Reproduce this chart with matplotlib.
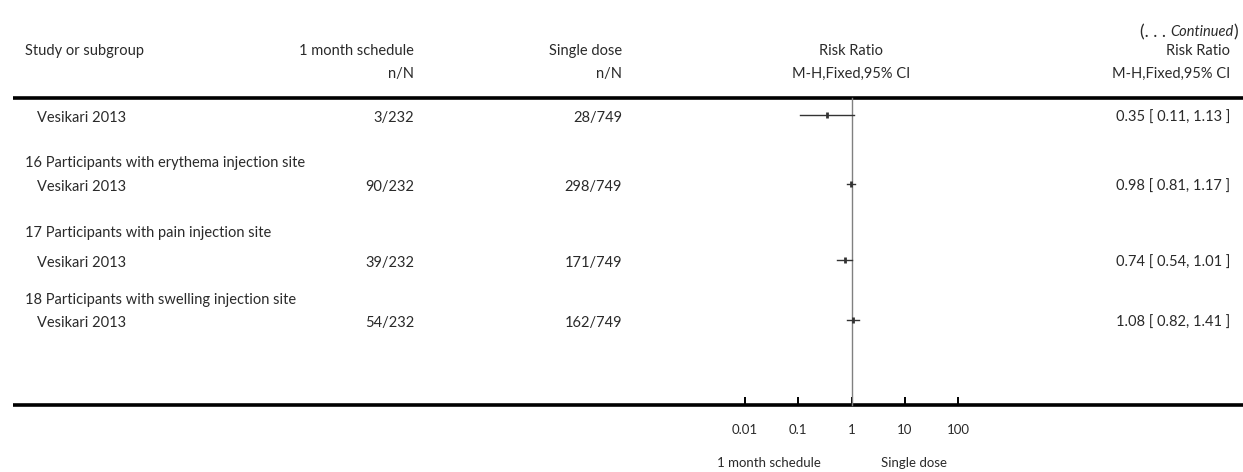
import matplotlib
matplotlib.use("Agg")
import matplotlib.pyplot as plt
import numpy as np

plt.rcParams['font.family'] = ['Lato', 'DejaVu Sans']
plt.rcParams['font.weight'] = 'normal'

# ---------------- data ----------------
group_labels = ["", "16 Participants with erythema injection site",
                "17 Participants with pain injection site",
                "18 Participants with swelling injection site"]
study_names = ["Vesikari 2013", "Vesikari 2013", "Vesikari 2013", "Vesikari 2013"]
events_1month = ["3/232", "90/232", "39/232", "54/232"]
events_single = ["28/749", "298/749", "171/749", "162/749"]
rr = [0.35, 0.98, 0.74, 1.08]
ci_low = [0.11, 0.81, 0.54, 0.82]
ci_high = [1.13, 1.17, 1.01, 1.41]
tick_values = [0.01, 0.1, 1, 10, 100]
tick_labels = ["0.01", "0.1", "1", "10", "100"]

# ---------------- layout (pixels) ----------------
W, H = 1243, 472
TXT = '#2a2a2a'
FS = 10.5
study_y = [118, 187, 263, 323]
group_y = [None, 163, 233, 300]
top_line_y = 98
bottom_line_y = 405
x_lo_px, x_hi_px = 745, 958   # pixel positions of 0.01 and 100

fig = plt.figure(figsize=(W / 100, H / 100), dpi=100)
ov = fig.add_axes([0, 0, 1, 1])
ov.set_xlim(0, W)
ov.set_ylim(H, 0)
ov.axis('off')

# "(. . . Continued)" built from pieces, right to left
renderer = fig.canvas.get_renderer()
cont_y = 32
x_right = 1238
pieces = [(")", 'normal', FS + 2), ("Continued", 'italic', FS), ("(. . . ", 'normal', FS + 2)]
for txt, style, fs in pieces:
    t = ov.text(x_right, cont_y, txt, ha='right', va='center', fontsize=fs, color=TXT, style=style)
    bb = t.get_window_extent(renderer=renderer)
    x_right -= bb.width

hdr_y1, hdr_y2 = 51, 74
ov.text(25, hdr_y1, "Study or subgroup", ha='left', va='center', fontsize=FS, color=TXT)
ov.text(414, hdr_y1, "1 month schedule", ha='right', va='center', fontsize=FS, color=TXT)
ov.text(414, hdr_y2, "n/N", ha='right', va='center', fontsize=FS, color=TXT)
ov.text(622, hdr_y1, "Single dose", ha='right', va='center', fontsize=FS, color=TXT)
ov.text(622, hdr_y2, "n/N", ha='right', va='center', fontsize=FS, color=TXT)
ov.text(851, hdr_y1, "Risk Ratio", ha='center', va='center', fontsize=FS, color=TXT)
ov.text(851, hdr_y2, "M-H,Fixed,95% CI", ha='center', va='center', fontsize=FS, color=TXT)
ov.text(1230, hdr_y1, "Risk Ratio", ha='right', va='center', fontsize=FS, color=TXT)
ov.text(1230, hdr_y2, "M-H,Fixed,95% CI", ha='right', va='center', fontsize=FS, color=TXT)

ov.plot([13, W], [top_line_y, top_line_y], color='black', lw=2.6, solid_capstyle='butt')
ov.plot([13, W], [bottom_line_y, bottom_line_y], color='black', lw=2.6, solid_capstyle='butt')

for i in range(len(study_names)):
    if group_labels[i]:
        ov.text(25, group_y[i], group_labels[i], ha='left', va='center', fontsize=FS, color=TXT)
    ov.text(37, study_y[i], study_names[i], ha='left', va='center', fontsize=FS, color=TXT)
    ov.text(414, study_y[i], events_1month[i], ha='right', va='center', fontsize=FS, color=TXT)
    ov.text(622, study_y[i], events_single[i], ha='right', va='center', fontsize=FS, color=TXT)
    ov.text(1230, study_y[i], f"{rr[i]:.2f} [ {ci_low[i]:.2f}, {ci_high[i]:.2f} ]",
            ha='right', va='center', fontsize=FS, color=TXT)

# forest axes
ax = fig.add_axes([x_lo_px / W, (H - bottom_line_y) / H,
                   (x_hi_px - x_lo_px) / W, (bottom_line_y - top_line_y) / H])
ax.set_xscale('log')
ax.set_xlim(0.01, 100)
ax.set_ylim(bottom_line_y, top_line_y)
ax.patch.set_alpha(0)
for s in ax.spines.values():
    s.set_visible(False)
ax.set_yticks([])
ax.set_xticks(tick_values)
ax.set_xticklabels(tick_labels)
ax.xaxis.set_minor_locator(matplotlib.ticker.NullLocator())
ax.tick_params(axis='x', direction='in', length=6, width=1.4, color='black',
               labelsize=9.5, labelcolor=TXT, pad=14)

ax.plot([1, 1], [top_line_y, bottom_line_y], color='#808080', lw=1.0, clip_on=False)
for i in range(len(rr)):
    ax.plot([ci_low[i], ci_high[i]], [study_y[i] - 3, study_y[i] - 3], color='#333333', lw=1.0,
            clip_on=False)
    ax.plot([rr[i]], [study_y[i] - 3], marker='|', markersize=5, mew=2.0, color='#333333',
            clip_on=False)

ov.text(769, 463, "1 month schedule", ha='center', va='center', fontsize=9.5, color=TXT)
ov.text(914, 463, "Single dose", ha='center', va='center', fontsize=9.5, color=TXT)

fig.savefig("out.png", dpi=100)
